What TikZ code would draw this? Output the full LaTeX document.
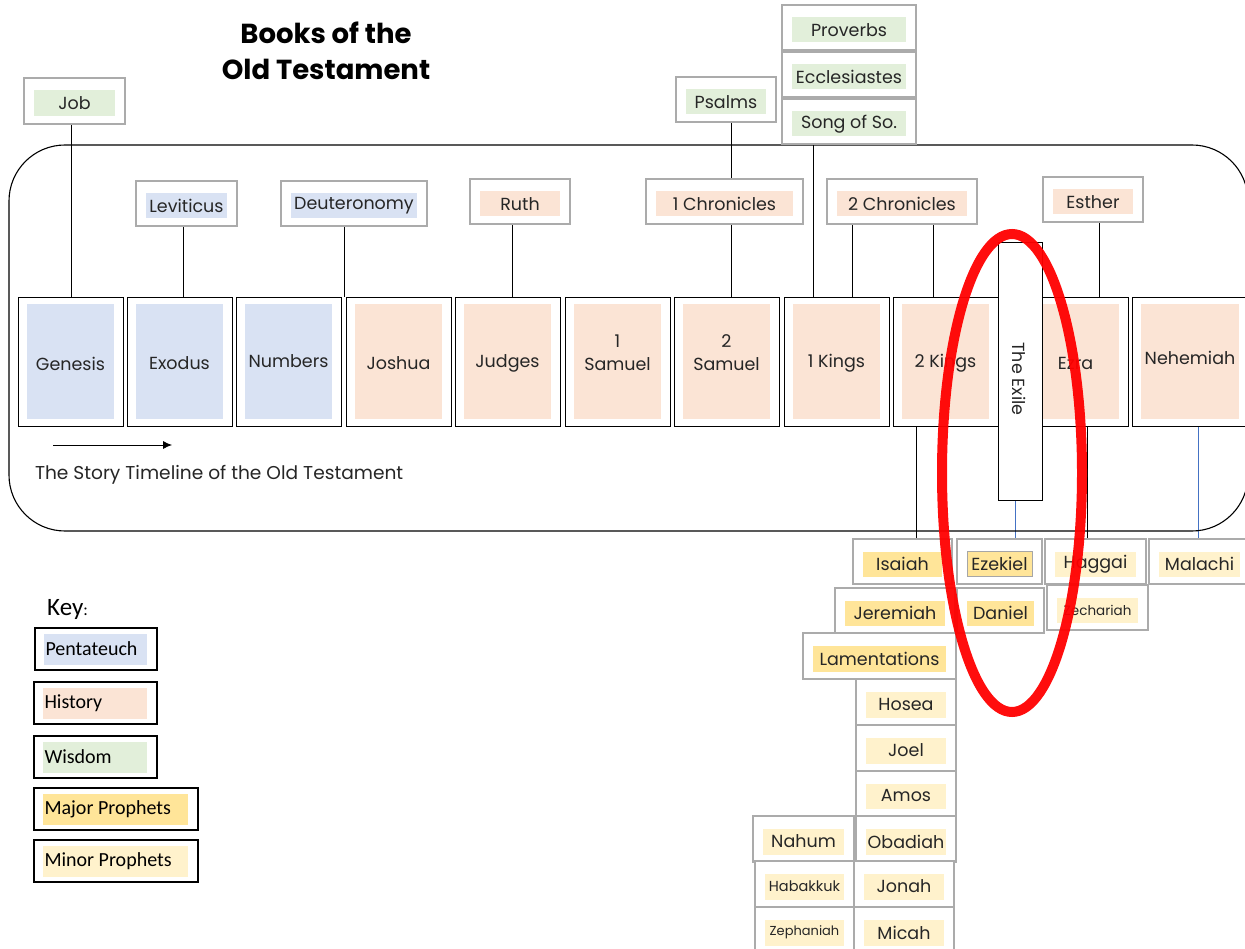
\documentclass[tikz,border=0pt]{standalone}
\usepackage{fontspec}
\setmainfont{Poppins}
\newfontfamily\calfont{Carlito}
\usetikzlibrary{arrows.meta}
\definecolor{pent}{HTML}{D9E2F3}
\definecolor{hist}{HTML}{FBE4D5}
\definecolor{wisd}{HTML}{E2EFDA}
\definecolor{majp}{HTML}{FFE599}
\definecolor{minp}{HTML}{FFF2CC}
\definecolor{gbord}{HTML}{ABABAB}
\definecolor{blu}{HTML}{4472C4}
\definecolor{ink}{HTML}{262626}
\pgfdeclarelayer{bg}
\pgfsetlayers{bg,main}
\tikzset{
  outerb/.style={draw=black, line width=0.9pt, fill=white, inner sep=0pt, outer sep=0pt},
  grayb/.style={draw=gbord, line width=1.8pt, fill=white, inner sep=0pt, outer sep=0pt},
  keyb/.style={draw=black, line width=1.1pt, fill=white, inner sep=0pt, outer sep=0pt},
  txt/.style={inner sep=0pt, outer sep=0pt, align=center, text=ink, font=\fontsize{17.5}{23}\selectfont},
  conn/.style={draw=black, line width=0.8pt},
  bconn/.style={draw=blu, line width=0.8pt},
  keytxt/.style={anchor=west, inner sep=0pt, text=black, font=\calfont\fontsize{20}{22}\selectfont},
}
% style, name, x1, y1, x2, y2, fill, text  (insets \ix, \iy, vertical shift \fy)
\newcommand\book[8]{%
  \node[#1, minimum width=#5pt-#3pt, minimum height=#6pt-#4pt] (#2) at ({(#3+#5)/2},{(#4+#6)/2}) {};
  \node[txt, fill=#7, minimum width=#5pt-#3pt-2*\ix, minimum height=#6pt-#4pt-2*\iy] (#2t) at ([yshift=\fy]#2.center) {#8};}
\newcommand\vc[4][]{%
  \path ([xshift=#4pt]#2.south) coordinate (vtmp);
  \draw[conn,#1] (vtmp) -- (vtmp |- #3.north);}
\newcommand\keybox[7]{% name, x1,y1,x2,y2, fill, text
  \node[keyb, minimum width=#4pt-#2pt, minimum height=#5pt-#3pt] (#1) at ({(#2+#4)/2},{(#3+#5)/2}) {};
  \node[inner sep=0pt, fill=#6, minimum width=#4pt-#2pt-19pt, minimum height=#5pt-#3pt-11pt] (#1f) at ([xshift=-0.5pt]#1.center) {};
  \node[keytxt] (#1t) at ([xshift=1.5pt]#1f.west) {#7};}
\begin{document}
\begin{tikzpicture}[x=1pt,y=-1pt]
\begin{pgfonlayer}{bg}
\fill[white] (0,0) rectangle (1245,949);
\end{pgfonlayer}
\useasboundingbox (0,0) rectangle (1245,949);

% title
\node[inner sep=0pt, align=center, text=black, font=\bfseries\fontsize{27.5}{36}\selectfont] (title) at (326,51) {Books of the\\Old Testament};

% timeline frame
\draw[line width=1.1pt, rounded corners=56pt] (9,145) rectangle (1248,531);

% main row
\def\ix{9pt}\def\iy{7pt}\def\fy{0pt}
\book{outerb}{gen}{18}{297}{123}{426}{pent}{}
\book{outerb}{exo}{127}{297}{232}{426}{pent}{}
\book{outerb}{num}{236}{297}{341}{426}{pent}{}
\book{outerb}{jos}{346}{297}{451}{426}{hist}{}
\book{outerb}{jud}{455}{297}{560}{426}{hist}{}
\book{outerb}{sa1}{565}{297}{670}{426}{hist}{}
\book{outerb}{sa2}{674}{297}{779}{426}{hist}{}
\book{outerb}{ki1}{784}{297}{889}{426}{hist}{}
\book{outerb}{ki2}{893}{297}{998}{426}{hist}{}
\book{outerb}{ezr}{1023}{297}{1128}{426}{hist}{}
\book{outerb}{neh}{1132}{297}{1248}{426}{hist}{}
\node[txt] (genl) at ([yshift=-2pt]gen.center) {Genesis};
\node[txt] (exol) at ([yshift=-2pt]exo.center) {Exodus};
\node[txt] (numl) at (num.center) {Numbers};
\node[txt] (josl) at ([yshift=-2pt]jos.center) {Joshua};
\node[txt] (judl) at ([yshift=-2pt]jud.center) {Judges};
\node[txt] (sa1l) at ([yshift=9pt]sa1.center) {1\\Samuel};
\node[txt] (sa2l) at ([yshift=9pt]sa2.center) {2\\Samuel};
\node[txt] (ki1l) at ([yshift=-2pt]ki1.center) {1 Kings};
\node[txt] (ki2l) at ([yshift=-2pt]ki2.center) {2 Kings};
\node[txt] (ezrl) at ([yshift=-2pt]ezr.center) {Ezra};
\node[txt] (nehl) at ([yshift=4pt]neht.center) {Nehemiah};

% the exile
\node[draw=black, line width=0.9pt, fill=white, minimum width=44pt, minimum height=258pt, inner sep=0pt] (exile) at (1020,371) {};
\node[txt, rotate=-90] (exilet) at (1019,379) {The Exile};

% top boxes
\def\ix{10pt}\def\iy{10pt}\def\fy{-2.5pt}
\book{grayb}{job}{24}{78}{125}{124}{wisd}{Job}
\book{grayb}{lev}{136}{181}{237}{226}{pent}{Leviticus}
\book{grayb}{deu}{281}{181}{427}{226}{pent}{Deuteronomy}
\book{grayb}{rut}{470}{179}{570}{224}{hist}{Ruth}
\book{grayb}{psa}{676}{77}{776}{122}{wisd}{Psalms}
\book{grayb}{ch1}{646}{179}{803}{224}{hist}{1 Chronicles}
\book{grayb}{pro}{782}{5}{916}{50}{wisd}{Proverbs}
\book{grayb}{ecc}{782}{52}{916}{97}{wisd}{Ecclesiastes}
\book{grayb}{sos}{782}{99}{916}{144}{wisd}{Song of So.}
\book{grayb}{ch2}{827}{179}{977}{224}{hist}{2 Chronicles}
\book{grayb}{est}{1043}{177}{1143}{222}{hist}{Esther}

% prophets
\book{grayb}{isa}{853}{539}{952}{584}{majp}{Isaiah}
\book{grayb}{eze}{957}{539}{1042}{584}{majp}{Ezekiel}
\book{grayb}{hag}{1045}{539}{1146}{584}{minp}{Haggai}
\book{grayb}{mal}{1149}{539}{1250}{584}{minp}{Malachi}
\book{grayb}{jer}{835}{588}{955}{633}{majp}{Jeremiah}
\book{grayb}{dan}{957}{588}{1044}{633}{majp}{Daniel}
\book{grayb}{zec}{1047}{585}{1148}{630}{minp}{\fontsize{13.5}{15}\selectfont Zechariah}
\book{grayb}{lam}{803}{633}{956}{679}{majp}{Lamentations}
\book{grayb}{hos}{856}{679}{956}{725}{minp}{Hosea}
\book{grayb}{joe}{856}{725}{956}{771}{minp}{Joel}
\book{grayb}{amo}{856}{771}{956}{816}{minp}{Amos}
\book{grayb}{oba}{856}{816}{956}{862}{minp}{Obadiah}
\book{grayb}{nah}{753}{816}{854}{862}{minp}{Nahum}
\book{grayb}{hab}{755}{861}{854}{907}{minp}{\fontsize{14.5}{16}\selectfont Habakkuk}
\book{grayb}{jon}{854}{861}{954}{907}{minp}{Jonah}
\book{grayb}{zep}{755}{907}{854}{953}{minp}{\fontsize{13}{14}\selectfont Zephaniah}
\book{grayb}{mic}{854}{907}{954}{953}{minp}{Micah}
\draw[draw=gray!70, line width=0.6pt] (ezet.south west) rectangle (ezet.north east);

% connectors
\begin{pgfonlayer}{bg}
\vc{job}{gen}{-3.5}
\vc{lev}{exo}{-3.5}
\vc{deu}{jos}{-10}
\vc{rut}{jud}{-8}
\vc{psa}{ch1}{5}
\vc{ch1}{sa2}{6.5}
\vc{sos}{ki1}{-36}
\vc{ch2}{ki1}{-50}
\vc{ch2}{ki2}{31}
\vc{est}{ezr}{6}
\vc{ki2}{isa}{-29.5}
\vc[bconn]{exile}{eze}{-5}
\vc{ezr}{hag}{11.5}
\vc[bconn]{neh}{mal}{8}
\end{pgfonlayer}

% timeline arrow and caption
\coordinate (ta) at (53,445);
\coordinate (tb) at (172,445);
\draw[line width=0.8pt, -{Latex[length=9pt,width=8pt]}] (ta) -- (tb);
\node[txt, anchor=west, font=\fontsize{18.6}{22}\selectfont] (tlt) at (35,475) {The Story Timeline of the Old Testament};

% key
\node[anchor=base west, inner sep=0pt, font=\calfont\fontsize{25}{28}\selectfont] (keyt) at (47,615) {Key\fontsize{17}{20}\selectfont:};
\keybox{kpen}{35}{628}{157}{670}{pent}{Pentateuch}
\keybox{khis}{34}{682}{157}{724}{hist}{History}
\keybox{kwis}{34}{736}{157}{778}{wisd}{Wisdom}
\keybox{kmaj}{34}{788}{198}{830}{majp}{Major Prophets}
\keybox{kmin}{34}{840}{198}{882}{minp}{Minor Prophets}

% red ellipse
\draw[draw=red, line width=10pt, opacity=0.95] (1012,473) ellipse [x radius=70pt, y radius=239pt];
\end{tikzpicture}
\end{document}
